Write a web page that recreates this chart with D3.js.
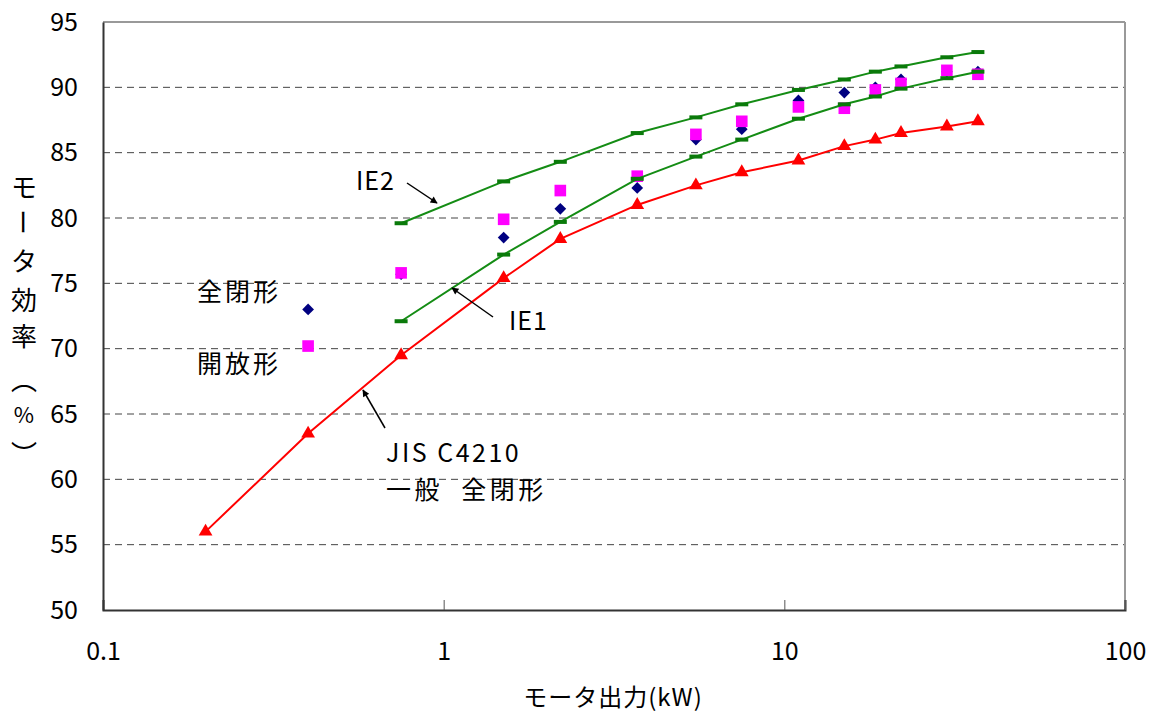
<!DOCTYPE html>
<html><head><meta charset="utf-8">
<script src="https://cdn.jsdelivr.net/npm/d3@7"></script>
<style>
body{margin:0;background:#fff;}
svg text{font-family:"Noto Sans CJK JP","Noto Sans",sans-serif;fill:#000;}
</style></head>
<body><svg id="c" width="1160" height="713"></svg>
<script>
const powerStd = [0.75, 1.5, 2.2, 3.7, 5.5, 7.5, 11, 15, 18.5, 22, 30, 37];
const ie2 = [79.6, 82.8, 84.3, 86.5, 87.7, 88.7, 89.8, 90.6, 91.2, 91.6, 92.3, 92.7];
const ie1 = [72.1, 77.2, 79.7, 83.0, 84.7, 86.0, 87.6, 88.7, 89.3, 89.9, 90.7, 91.2];
const powerJis = [0.2, 0.4, 0.75, 1.5, 2.2, 3.7, 5.5, 7.5, 11, 15, 18.5, 22, 30, 37];
const jis = [56.0, 63.5, 69.5, 75.4, 78.4, 81.0, 82.5, 83.5, 84.4, 85.5, 86.0, 86.5, 87.0, 87.4];
const powerMeas = [0.4, 0.75, 1.5, 2.2, 3.7, 5.5, 7.5, 11, 15, 18.5, 22, 30, 37];
const closed = [73.0, 75.7, 78.5, 80.7, 82.3, 86.0, 86.8, 89.0, 89.6, 90.0, 90.6, 91.2, 91.2];
const open = [70.2, 75.8, 79.9, 82.1, 83.2, 86.4, 87.4, 88.5, 88.4, 89.8, 90.3, 91.3, 91.0];
const xTicks = [0.1, 1, 10, 100];
const yTicks = [50, 55, 60, 65, 70, 75, 80, 85, 90, 95];

const svg = d3.select("#c");
const L = 103, R = 1125, T = 22, B = 610;
const x = d3.scaleLog().domain([0.1, 100]).range([L, R]);
const y = d3.scaleLinear().domain([50, 95]).range([B, T]);

// gridlines
svg.append("g").selectAll("line").data(yTicks.filter(v => v > 50 && v < 95)).join("line")
  .attr("x1", L).attr("x2", R).attr("y1", d => y(d)).attr("y2", d => y(d))
  .attr("stroke", "#444").attr("stroke-width", 1).attr("stroke-dasharray", "7,5");

// frame top/right
svg.append("line").attr("x1", L).attr("x2", R).attr("y1", T).attr("y2", T).attr("stroke", "#999").attr("stroke-width", 2);
svg.append("line").attr("x1", R).attr("x2", R).attr("y1", T).attr("y2", B).attr("stroke", "#999").attr("stroke-width", 2);

// axes
const xAxis = svg.append("g").attr("transform", `translate(0,${B})`)
  .call(d3.axisBottom(x).tickValues(xTicks).tickFormat(d => String(d)).tickSize(-10).tickPadding(32));
xAxis.select(".domain").attr("stroke", "#333").attr("stroke-width", 2);
xAxis.selectAll(".tick line").attr("stroke", "#555");
xAxis.selectAll("text").attr("font-size", 25).attr("fill", "#000");

const yAxis = svg.append("g").attr("transform", `translate(${L},0)`)
  .call(d3.axisLeft(y).tickValues(yTicks).tickSize(0).tickPadding(25));
yAxis.select(".domain").attr("stroke", "#333").attr("stroke-width", 2);
yAxis.selectAll("text").attr("font-size", 25).attr("fill", "#000");

// measured points
svg.append("g").selectAll("path").data(powerMeas.map((p, i) => [p, closed[i]])).join("path")
  .attr("d", d3.symbol(d3.symbolDiamond2, 88)())
  .attr("transform", d => `translate(${x(d[0])},${y(d[1])})`)
  .attr("fill", "#000080");
svg.append("g").selectAll("path").data(powerMeas.map((p, i) => [p, open[i]])).join("path")
  .attr("d", d3.symbol(d3.symbolSquare, 135)())
  .attr("transform", d => `translate(${x(d[0])},${y(d[1])})`)
  .attr("fill", "#ff00ff");

// IE lines
const line = d3.line().x(d => x(d[0])).y(d => y(d[1]));
[ie2, ie1].forEach(s => {
  const pts = powerStd.map((p, i) => [p, s[i]]);
  svg.append("path").datum(pts).attr("d", line).attr("fill", "none").attr("stroke", "#148c14").attr("stroke-width", 2);
  svg.append("g").selectAll("rect").data(pts).join("rect")
    .attr("x", d => x(d[0]) - 6.5).attr("y", d => y(d[1]) - 2).attr("width", 13).attr("height", 4)
    .attr("fill", "#0a7a0a");
});

// JIS line
const jp = powerJis.map((p, i) => [p, jis[i]]);
svg.append("path").datum(jp).attr("d", line).attr("fill", "none").attr("stroke", "#ff0000").attr("stroke-width", 2);
svg.append("g").selectAll("path").data(jp).join("path")
  .attr("d", d3.symbol(d3.symbolTriangle, 82)())
  .attr("transform", d => `translate(${x(d[0])},${y(d[1])})`)
  .attr("fill", "#ff0000");

// annotations
const ann = svg.append("g").attr("font-size", 25);
ann.append("text").attr("x", 356).attr("y", 190).attr("letter-spacing", 1).text("IE2");
ann.append("text").attr("x", 509).attr("y", 330).attr("letter-spacing", 1).text("IE1");
ann.append("text").attr("x", 197).attr("y", 301).attr("letter-spacing", 3).text("全閉形");
ann.append("text").attr("x", 197).attr("y", 373).attr("letter-spacing", 3).text("開放形");
ann.append("text").attr("x", 386).attr("y", 462).attr("letter-spacing", 2.5).text("JIS C4210");
ann.append("text").attr("x", 386).attr("y", 499).attr("letter-spacing", 3.5).attr("xml:space", "preserve").text("一般  全閉形");

const defs = svg.append("defs");
defs.append("marker").attr("id", "ah").attr("viewBox", "0 0 10 10").attr("refX", 9).attr("refY", 5)
  .attr("markerWidth", 11).attr("markerHeight", 7).attr("markerUnits", "userSpaceOnUse").attr("orient", "auto")
  .append("path").attr("d", "M0,0 L10,5 L0,10 z").attr("fill", "#000");
const arrows = [[407, 183, 437, 203], [493, 317, 452, 288], [385, 428, 363, 390]];
svg.append("g").selectAll("line").data(arrows).join("line")
  .attr("x1", d => d[0]).attr("y1", d => d[1]).attr("x2", d => d[2]).attr("y2", d => d[3])
  .attr("stroke", "#000").attr("stroke-width", 1.5).attr("marker-end", "url(#ah)");

// axis titles
svg.append("text").attr("x", 613).attr("y", 706).attr("text-anchor", "middle").attr("font-size", 24)
  .attr("letter-spacing", 1).text("モータ出力(kW)");
const yl = [["モ", 185], ["ー", 222], ["タ", 259], ["効", 298], ["率", 334], ["︵", 378], ["%", 413], ["︶", 452]];
svg.append("g").selectAll("text").data(yl).join("text")
  .attr("x", 24).attr("y", d => d[1]).attr("text-anchor", "middle").attr("dominant-baseline", "central")
  .attr("transform", d => d[0] === "ー" ? `rotate(90,24,${d[1]})` : null)
  .attr("font-size", d => d[0] === "%" ? 22 : 26).text(d => d[0]);
</script></body></html>
